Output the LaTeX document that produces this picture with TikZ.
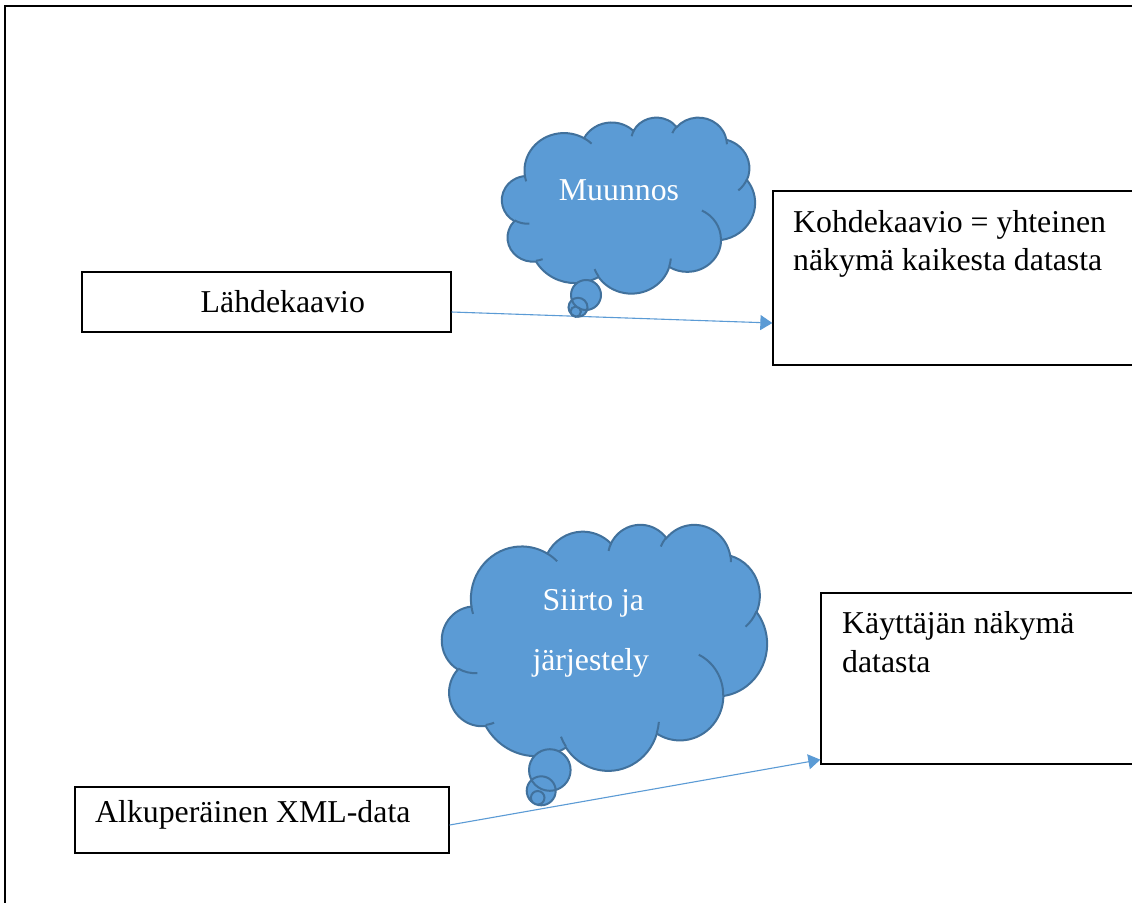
\documentclass[tikz,border=0pt]{standalone}
\usepackage{fontspec}
\setmainfont{Liberation Serif}
\usetikzlibrary{arrows.meta}

\definecolor{cloudfill}{HTML}{5B9BD5}
\definecolor{cloudline}{HTML}{41719C}
\definecolor{linkblue}{HTML}{5B9BD5}

% Elliptical arc in the arcTo style: radii, start angle and sweep, where the
% angles are the directions of rays from the centre (converted to parametric).
\newcommand\ooarc[4]{arc[x radius=#1, y radius=#2,
  start angle={atan2((#1)*sin(#3),(#2)*cos(#3))},
  delta angle={mod(atan2((#1)*sin((#3)+(#4)),(#2)*cos((#3)+(#4)))-atan2((#1)*sin(#3),(#2)*cos(#3))+720,360)}]}

% Outline of a cloud in a 432 x 432 frame (y pointing down)
\newcommand\cloudbody{(39.00,143.70)
  \ooarc{67.53}{91.90}{-190.4875}{123.7805}
  \ooarc{53.33}{72.67}{-144.1024}{89.9452}
  \ooarc{43.65}{59.45}{-145.8079}{99.7230}
  \ooarc{48.57}{65.95}{-130.9861}{117.2417}
  \ooarc{53.33}{72.73}{-78.7089}{109.0269}
  \ooarc{67.75}{92.20}{-46.2673}{130.2690}
  \ooarc{57.85}{78.67}{0.6250}{114.0333}
  \ooarc{67.52}{92.15}{22.4516}{115.1726}
  \ooarc{77.20}{105.43}{66.2426}{75.7110}
  \ooarc{43.60}{59.18}{-274.9421}{146.7356}
  \ooarc{43.45}{59.45}{-246.8285}{152.5189}
  -- cycle}

% Short inner strokes between the puffs
\newcommand\cloudfolds{
  (46.93,261.77) \ooarc{43.45}{59.45}{86.7420}{26.4295}
  (69.28,348.99) \ooarc{43.60}{59.18}{73.6105}{11.4475}
  (164.78,390.90) \ooarc{67.52}{92.15}{137.6242}{14.0811}
  (288.27,347.51) \ooarc{67.52}{92.15}{6.4533}{15.9984}
  (341.29,229.54) \ooarc{57.85}{78.67}{-70.2924}{70.9174}
  (417.98,153.54) \ooarc{53.33}{72.73}{30.3180}{27.7515}
  (383.24,54.26) \ooarc{48.57}{65.95}{-13.7443}{14.8589}
  (290.78,39.52) \ooarc{48.57}{65.95}{-149.1815}{18.1954}
  (221.41,47.20) \ooarc{43.65}{59.45}{-163.4943}{17.6864}
  (140.00,51.92) \ooarc{67.53}{91.90}{-66.7070}{12.3194}
  (41.27,157.89) \ooarc{67.53}{91.90}{157.6544}{11.8573}}

\tikzset{
  cloudshape/.style={fill=cloudfill, draw=cloudline, line width=2pt},
  cloudfold/.style={draw=cloudline, line width=2pt},
  cloudtext/.style={text=white, inner sep=0pt, font=\fontsize{31.8}{38.5}\selectfont},
  boxtext/.style={text=black, inner sep=0pt, font=\fontsize{31.8}{38.5}\selectfont},
  plainbox/.style={draw=black, line width=1.3pt, fill=white, inner sep=0pt},
  link/.style={draw=linkblue, line width=1.1pt, -{Triangle[length=12pt, width=15pt]}},
}

\begin{document}
\begin{tikzpicture}[x=1pt, y=-1pt]
  \useasboundingbox (0,0) rectangle (1132,902);
  \clip (0,0) rectangle (1132,902);
  \fill[white] (0,0) rectangle (1132,902);

  % page frame
  \draw[line width=2pt, black] (5,920) -- (5,6) -- (1150,6);

  % boxes
  \node[plainbox, minimum width=369pt, minimum height=60pt] (lahde) at (266.5,302) {};
  \node[plainbox, minimum width=372pt, minimum height=174pt] (kohde) at (959,278) {};
  \node[plainbox, minimum width=324pt, minimum height=171pt] (kaytt) at (983,678.5) {};
  \node[plainbox, minimum width=374pt, minimum height=66pt] (alku) at (262,820) {};

  \node[boxtext, anchor=base west] (lahdet) at (200.5,312.5) {Lähdekaavio};
  \node[boxtext, anchor=base west] (kohdet1) at (793,232) {Kohdekaavio = yhteinen};
  \node[boxtext, anchor=base west] (kohdet2) at (793,270) {näkymä kaikesta datasta};
  \node[boxtext, anchor=base west] (kaytt1) at (842,633) {Käyttäjän näkymä};
  \node[boxtext, anchor=base west] (kaytt2) at (842,672) {datasta};
  \node[boxtext, anchor=base west] (alkut) at (95,822) {Alkuperäinen XML-data};

  % connectors
  \draw[link] ([yshift=-10pt]lahde.east) -- ([yshift=-45pt]kohde.west);
  \draw[link] ([yshift=-5pt]alku.east) -- ([yshift=5pt]kaytt.south west);

  % upper thought cloud
  \begin{scope}[shift={(502,117)}, x={(0.58565pt,0pt)}, y={(0pt,-0.40741pt)}]
    \path[cloudshape] \cloudbody;
    \path[cloudfold] \cloudfolds;
  \end{scope}
  \path[cloudshape] (586,295) circle[radius=15] (578,307.3) circle[radius=9.5]
    (575.7,311.7) circle[radius=5.2];
  \node[cloudtext, anchor=base] (muunnos) at (619,200) {Muunnos};

  % lower thought cloud
  \begin{scope}[shift={(442,524)}, x={(0.75231pt,0pt)}, y={(0pt,-0.56944pt)}]
    \path[cloudshape] \cloudbody;
    \path[cloudfold] \cloudfolds;
  \end{scope}
  \path[cloudshape] (549.8,770) circle[radius=20.8] (541.2,790.8) circle[radius=14.5]
    (537.7,797.8) circle[radius=6.8];
  \node[cloudtext, anchor=base] (siirto1) at (593.3,610) {Siirto ja};
  \node[cloudtext, anchor=base] (siirto2) at (590.8,670) {järjestely};
\end{tikzpicture}
\end{document}
